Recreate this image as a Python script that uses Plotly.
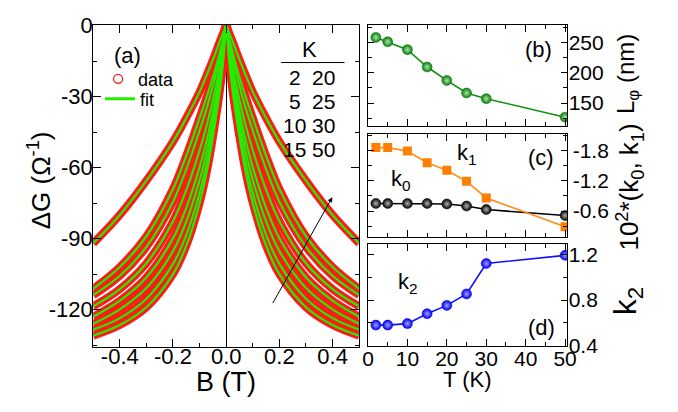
import plotly.graph_objects as go

W, H = 678, 412
FONT = "Liberation Sans, Arial, sans-serif"

# ---------------- panel (a) data: Delta G vs B (positive half, symmetric) ----------------
B_pos = [0.0, 0.01, 0.02, 0.04, 0.07, 0.1, 0.15, 0.2, 0.3, 0.4, 0.5]
temps_a = [2, 5, 10, 15, 20, 25, 30, 50]
dG_T2 = [0, -13, -24, -40, -60, -75, -93, -105, -119, -126.5, -131.0]
dG_T5 = [0, -12.0, -22.3, -37.4, -56.3, -70.7, -88.4, -100.7, -115.4, -123.6, -128.5]
dG_T10 = [0, -10.8, -20.1, -34.1, -51.6, -65.3, -82.7, -95.3, -110.9, -119.9, -126.0]
dG_T15 = [0, -9.6, -17.9, -30.8, -47.0, -59.9, -77.0, -89.9, -106.4, -116.2, -123.0]
dG_T20 = [0, -8.0, -15.0, -26.4, -40.8, -52.7, -69.4, -82.7, -100.4, -111.3, -118.6]
dG_T25 = [0, -6.2, -11.7, -21.3, -33.7, -44.4, -60.7, -74.4, -93.5, -105.7, -113.9]
dG_T30 = [0, -5.0, -9.5, -18.0, -29.0, -39.0, -55.0, -69.0, -89.0, -102.0, -111.2]
dG_T50 = [0, -2.8, -5.5, -11.5, -20.0, -28.0, -39.0, -49.0, -65.5, -80.0, -92.0]
curves_a = [dG_T2, dG_T5, dG_T10, dG_T15, dG_T20, dG_T25, dG_T30, dG_T50]

a_xticks = [-0.4, -0.2, 0.0, 0.2, 0.4]
a_xticktext = ["-0.4", "-0.2", "0.0", "0.2", "0.4"]
a_xminor = [-0.5, -0.3, -0.1, 0.1, 0.3, 0.5]
a_yticks = [0, -30, -60, -90, -120]
a_yticktext = ["0", "-30", "-60", "-90", "-120"]
a_yminor = [-15, -45, -75, -105, -135]

# ---------------- panels (b)-(d) data vs T ----------------
T = [2, 5, 10, 15, 20, 25, 30, 50]
L_phi = [258.9, 251.6, 238.6, 209.8, 187.5, 166.7, 157.3, 126.6]
k0 = [-0.75, -0.75, -0.75, -0.75, -0.74, -0.70, -0.63, -0.51]
k1 = [-1.86, -1.86, -1.79, -1.56, -1.41, -1.19, -0.86, -0.29]
k2 = [0.58, 0.58, 0.593, 0.68, 0.753, 0.854, 1.121, 1.193]

T_ticks = [0, 10, 20, 30, 40, 50]
T_ticktext = ["0", "10", "20", "30", "40", "50"]
T_minor = [5, 15, 25, 35, 45]
b_yticks = [250, 200, 150]
b_yticktext = ["250", "200", "150"]
b_yminor = [275, 225, 175, 125]
c_yticks = [-1.8, -1.2, -0.6]
c_yticktext = ["-1.8", "-1.2", "-0.6"]
c_yminor = [-2.1, -1.5, -0.9, -0.3]
d_yticks = [0.4, 0.8, 1.2]
d_yticktext = ["0.4", "0.8", "1.2"]
d_yminor = [0.6, 1.0]

table_left = ["2", "5", "10", "15"]
table_right = ["20", "25", "30", "50"]


def px(x):
    return x / W


def py(y):
    return 1 - y / H


def mirror_B(vals):
    return [-v for v in reversed(vals[1:])] + list(vals)


def mirror_G(vals):
    return list(reversed(vals[1:])) + list(vals)


fig = go.Figure()

B_full = mirror_B(B_pos)
for c in curves_a:
    fig.add_trace(go.Scatter(x=B_full, y=mirror_G(c), mode="lines", line=dict(color="#ff1a1a", width=8, shape="spline"),
                             showlegend=False, hoverinfo="skip", xaxis="x", yaxis="y"))
for c in curves_a:
    fig.add_trace(go.Scatter(x=B_full, y=mirror_G(c), mode="lines", line=dict(color="#22ee00", width=2.2, shape="spline"),
                             showlegend=False, hoverinfo="skip", xaxis="x", yaxis="y"))

# legend-only entries
fig.add_trace(go.Scatter(x=[None], y=[None], mode="markers", name="data", legend="legend",
                         marker=dict(symbol="circle-open", size=9, color="#ff1a1a", line=dict(width=1.3)),
                         xaxis="x", yaxis="y"))
fig.add_trace(go.Scatter(x=[None], y=[None], mode="lines", name="fit", legend="legend2",
                         line=dict(color="#22ee00", width=3), xaxis="x", yaxis="y"))


def sphere(color, light):
    return dict(symbol="circle", size=10, color=color, line=dict(color=color, width=0.5),
                gradient=dict(type="radial", color=light))


fig.add_trace(go.Scatter(x=T, y=L_phi, mode="lines+markers", line=dict(color="#109010", width=1.6),
                         marker=sphere("#0a7a0a", "#a8e8a8"), showlegend=False, xaxis="x2", yaxis="y2"))
fig.add_trace(go.Scatter(x=T, y=k0, mode="lines+markers", line=dict(color="#000000", width=1.6),
                         marker=sphere("#000000", "#b0b0b0"), showlegend=False, xaxis="x3", yaxis="y3"))
fig.add_trace(go.Scatter(x=T, y=k1, mode="lines+markers", line=dict(color="#ff8c1a", width=1.6),
                         marker=dict(symbol="square", size=9, color="#ff8000"), showlegend=False,
                         xaxis="x3", yaxis="y3"))
fig.add_trace(go.Scatter(x=T, y=k2, mode="lines+markers", line=dict(color="#1010ff", width=1.6),
                         marker=sphere("#0000ee", "#a0a0ff"), showlegend=False, xaxis="x4", yaxis="y4"))

common = dict(showline=True, linecolor="black", linewidth=1, mirror="allticks", ticks="inside",
              tickcolor="black", ticklen=8, tickwidth=1, showgrid=False, zeroline=False,
              ticklabeloverflow="allow",
              tickfont=dict(family=FONT, size=22, color="black"))


def minor(vals):
    return dict(tickvals=vals, ticks="inside", ticklen=4, tickcolor="black", tickwidth=1, showgrid=False)


xa = [81, 353]
ya = [6, 346]
xr = [362, 566]
yb = [6, 113]
yc = [122, 230]
yd = [238, 345]

legend_style = dict(xanchor="left", yanchor="top", bgcolor="rgba(0,0,0,0)",
                    font=dict(family=FONT, size=18, color="black"), itemwidth=30)

fig.update_layout(
    width=W, height=H, margin=dict(l=0, r=0, t=0, b=0), autosize=False,
    paper_bgcolor="white", plot_bgcolor="white",
    font=dict(family=FONT, color="black"),
    xaxis=dict(common, domain=[px(xa[0]), px(xa[1])], range=[-0.5, 0.5], anchor="y",
               tickvals=a_xticks, ticktext=a_xticktext, minor=minor(a_xminor),
               zeroline=True, zerolinecolor="black", zerolinewidth=1.3, ticklabelstandoff=-10),
    yaxis=dict(common, domain=[py(ya[1]), py(ya[0])], range=[-135.6, 0.4], anchor="x",
               tickvals=a_yticks, ticktext=a_yticktext, minor=minor(a_yminor), ticklabelstandoff=-5),
    xaxis2=dict(common, domain=[px(xr[0]), px(xr[1])], range=[0, 50.6], anchor="y2",
                tickvals=T_ticks, showticklabels=False, minor=minor(T_minor), ticklen=7),
    yaxis2=dict(common, domain=[py(yb[1]), py(yb[0])], range=[112, 280], anchor="x2", side="right",
                tickvals=b_yticks, ticktext=b_yticktext, minor=minor(b_yminor), ticklen=6,
                tickfont=dict(family=FONT, size=21, color="black"), ticklabelstandoff=-4),
    xaxis3=dict(common, domain=[px(xr[0]), px(xr[1])], range=[0, 50.6], anchor="y3",
                tickvals=T_ticks, showticklabels=False, minor=minor(T_minor), ticklen=7),
    yaxis3=dict(common, domain=[py(yc[1]), py(yc[0])], range=[-0.09, -2.12], anchor="x3", side="right",
                tickvals=c_yticks, ticktext=c_yticktext, minor=minor(c_yminor), ticklen=6,
                ticklabeloverflow="hide past div",
                tickfont=dict(family=FONT, size=21, color="black"), ticklabelstandoff=0),
    xaxis4=dict(common, domain=[px(xr[0]), px(xr[1])], range=[0, 50.6], anchor="y4",
                tickvals=T_ticks, ticktext=T_ticktext, minor=minor(T_minor), ticklen=7,
                tickfont=dict(family=FONT, size=21, color="black"), ticklabelstandoff=-6),
    yaxis4=dict(common, domain=[py(yd[1]), py(yd[0])], range=[0.4, 1.29], anchor="x4", side="right",
                tickvals=d_yticks, ticktext=d_yticktext, minor=minor(d_yminor), ticklen=6,
                tickfont=dict(family=FONT, size=21, color="black"), ticklabelstandoff=-4),
    legend=dict(legend_style, x=px(86), y=py(44)),
    legend2=dict(legend_style, x=px(88), y=py(65)),
)


def ann(text, x, y, size, angle=0, xanchor="center"):
    return dict(text=text, x=px(x), y=py(y), xref="paper", yref="paper", showarrow=False,
                font=dict(family=FONT, size=size, color="black"), textangle=angle,
                xanchor=xanchor, yanchor="middle")


annots = [
    ann("(a)", 116, 39, 22),
    ann("(b)", 536, 32, 22),
    ann("(c)", 539, 146, 22),
    ann("(d)", 539, 326, 22),
    ann("k<sub>1</sub>", 463, 143, 22),
    ann("k<sub>0</sub>", 396, 170, 22),
    ann("k<sub>2</sub>", 403, 279, 22),
    ann("K", 302, 32, 22),
    ann("ΔG (Ω<sup>-1</sup>)", 27, 170, 26, -90),
    ann("B (T)", 217, 384, 27),
    ann("T (K)", 463, 381, 22),
    ann("L<sub>φ</sub> (nm)", 628, 58, 24, -90),
    ann("10<sup>2</sup>*(k<sub>0</sub>, k<sub>1</sub>)", 630, 178, 26, -90),
    ann("k<sub>2</sub>", 627, 298, 32, -90),
]
row_y = [62, 87, 113, 138]
for i in range(4):
    annots.append(ann(table_left[i], 287, row_y[i], 21))
    annots.append(ann(table_right[i], 317, row_y[i], 21))

# arrow showing increasing T
annots.append(dict(x=0.399, y=-72.5, ax=0.172, ay=-117.9, xref="x", yref="y", axref="x", ayref="y",
                   showarrow=True, arrowhead=2, arrowsize=1, arrowwidth=1, arrowcolor="black", text=""))

fig.update_layout(annotations=annots)
fig.add_shape(type="line", xref="paper", yref="paper", x0=px(273), x1=px(338), y0=py(46), y1=py(46),
              line=dict(color="black", width=1))

fig.write_html("out.html")
